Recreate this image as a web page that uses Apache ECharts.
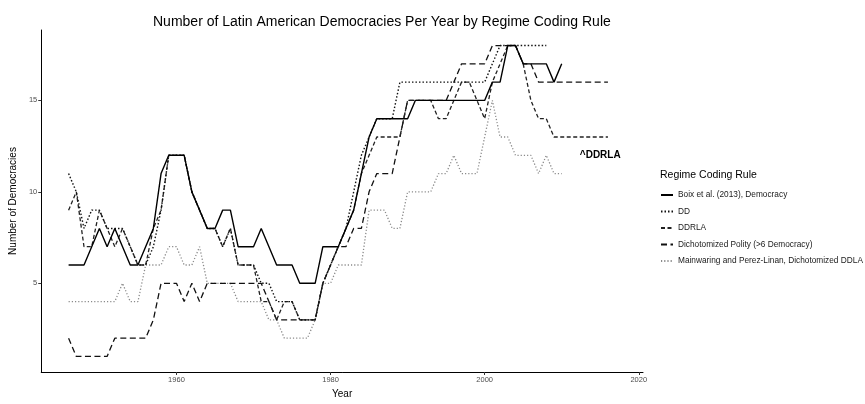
<!DOCTYPE html>
<html>
<head>
<meta charset="utf-8">
<script src="https://cdn.jsdelivr.net/npm/echarts@6/dist/echarts.min.js"></script>
<style>
html,body{margin:0;padding:0;background:#fff;}
#chart{width:865px;height:404px;}
</style>
</head>
<body>
<div id="chart"></div>
<script>
// ---- data ----
const seriesNames = [
  "Boix et al. (2013), Democracy",
  "DD",
  "DDRLA",
  "Dichotomized Polity (>6 Democracy)",
  "Mainwaring and Perez-Linan, Dichotomized DDLA"
];
const boixStart = 1946;
const boixValues = [6,6,6,7,8,7,8,7,6,6, 7,8,11,12,12,12,10,9,8,8, 9,9,7,7,7,8,7,6,6,6, 5,5,5,7,7,7,8,9,11,13, 14,14,14,14,14,15,15,15,15,15, 15,15,15,15,15,16,16,18,18,17, 17,17,17,16,17];
const ddStart = 1946;
const ddValues = [11,10,8,9,9,8,8,8,7,6, 6,7,9,12,12,12,10,9,8,8, 7,8,6,6,6,5,5,4,4,4, 3,3,3,5,6,7,8,10,12,13, 14,14,14,16,16,16,16,16,16,16, 16,16,16,16,16,17,18,18,18,18, 18,18,18];
const ddrlaStart = 1946;
const ddrlaValues = [9,10,7,7,9,8,7,8,7,6, 6,8,9,12,12,12,10,9,8,8, 7,8,6,6,6,4,4,3,4,4, 3,3,3,5,6,7,8,9,11,12, 13,13,13,13,15,15,15,15,14,14, 15,16,16,15,14,16,17,18,18,17, 15,14,14,13,13,13,13,13,13,13,13];
const polityStart = 1946;
const polityValues = [2,1,1,1,1,1,2,2,2,2, 2,3,5,5,5,4,5,4,5,5, 5,5,5,5,5,5,4,3,3,3, 3,3,3,5,6,7,7,8,8,10, 11,11,11,13,15,15,15,15,15,15, 16,17,17,17,17,18,18,18,18,17, 17,16,16,16,16,16,16,16,16,16,16];
const mainStart = 1946;
const mainValues = [4,4,4,4,4,4,4,5,4,4, 6,6,6,7,7,6,6,7,5,5, 5,5,4,4,4,4,3,3,2,2, 2,2,3,5,5,6,6,6,6,9, 9,9,8,8,10,10,10,10,11,11, 12,11,11,11,13,15,13,13,12,12, 12,11,12,11,11];
const xTicks = [1960, 1980, 2000, 2020];
const yTicks = [5, 10, 15];
const annotationText = "^DDRLA";
const annotationAt = [2015, 12];

function pairs(start, vals){ return vals.map((v,i)=>[start+i, v]); }

const FONT = "Liberation Sans, Arial, Helvetica, sans-serif";
const chart = echarts.init(document.getElementById('chart'), null, {renderer:'canvas'});

const styles = [
  {color:'#000000', type:'solid', width:1.4},
  {color:'#111111', type:[1.5,2], width:1.4},
  {color:'#222222', type:[4,2.5], width:1.3},
  {color:'#111111', type:[6,3.5], width:1.3},
  {color:'#8a8a8a', type:[1.2,2], width:1.3}
];
const dataSets = [
  pairs(boixStart, boixValues),
  pairs(ddStart, ddValues),
  pairs(ddrlaStart, ddrlaValues),
  pairs(polityStart, polityValues),
  pairs(mainStart, mainValues)
];

const series = seriesNames.map((n,i)=>{
  const s = {
    name:n, type:'line', data:dataSets[i], symbol:'none', animation:false,
    lineStyle:{color:styles[i].color, type:styles[i].type, width:styles[i].width},
    itemStyle:{color:styles[i].color},
    z: 10 - i
  };
  if (n === 'DDRLA') {
    s.markPoint = {
      symbol:'rect', symbolSize:0, animation:false,
      data:[{coord:annotationAt}],
      label:{show:true, formatter:annotationText, position:'inside', color:'#000', fontSize:10, fontWeight:'bold', fontFamily:FONT}
    };
  }
  return s;
});

chart.setOption({
  backgroundColor:'#ffffff',
  animation:false,
  title:[
    {text:'Number of Latin American Democracies Per Year by Regime Coding Rule', left:148, top:10,
     textStyle:{fontFamily:FONT, fontSize:14, fontWeight:'normal', color:'#000'}},
    {text:'Regime Coding Rule', left:655, top:165,
     textStyle:{fontFamily:FONT, fontSize:10.5, fontWeight:'normal', color:'#000'}}
  ],
  legend:{
    data:seriesNames, orient:'vertical', left:655, top:186,
    itemWidth:12, itemHeight:8, itemGap:8.5,
    itemStyle:{opacity:0, borderWidth:0},
    textStyle:{fontFamily:FONT, fontSize:8.3, color:'#1a1a1a'}
  },
  grid:{left:36, right:222, top:30, bottom:23, containLabel:false},
  xAxis:{
    type:'value', min:1942.45, max:2020.55,
    name:'Year', nameLocation:'middle', nameGap:17,
    nameTextStyle:{fontFamily:FONT, fontSize:10, color:'#000'},
    axisLine:{show:true, lineStyle:{color:'#000', width:1}},
    axisTick:{show:true, customValues:xTicks, length:3, lineStyle:{color:'#333'}},
    axisLabel:{customValues:xTicks, formatter:(v)=>String(v), fontFamily:FONT, fontSize:7.5, color:'#4d4d4d', margin:4},
    splitLine:{show:false}
  },
  yAxis:{
    type:'value', min:0.15, max:18.85,
    name:'Number of Democracies', nameLocation:'middle', nameGap:18,
    nameTextStyle:{fontFamily:FONT, fontSize:10, color:'#000'},
    axisLine:{show:true, lineStyle:{color:'#000', width:1}},
    axisTick:{show:true, customValues:yTicks, length:3, lineStyle:{color:'#333'}},
    axisLabel:{customValues:yTicks, formatter:(v)=>String(v), fontFamily:FONT, fontSize:7.5, color:'#4d4d4d', margin:4},
    splitLine:{show:false}
  },
  series:series
});
</script>
</body>
</html>
